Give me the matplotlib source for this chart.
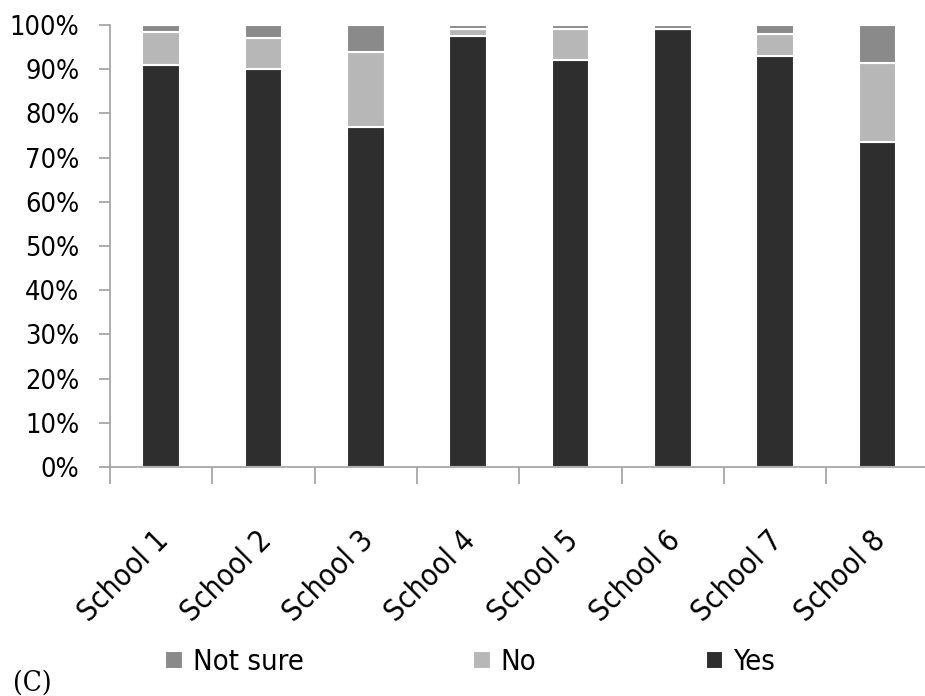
import numpy as np
from matplotlib import pyplot as plt
from matplotlib.ticker import PercentFormatter
import matplotlib.transforms as mtransforms

schools = ["School 1", "School 2", "School 3", "School 4",
           "School 5", "School 6", "School 7", "School 8"]
yes = [91, 90, 77, 97.5, 92, 99, 93, 73.5]
no = [7.5, 7, 17, 1.5, 7, 0, 5, 18]
not_sure = [1.5, 3, 6, 1, 1, 1, 2, 8.5]

plt.rcParams['font.family'] = ['DejaVu Sans']
plt.rcParams['font.stretch'] = 'condensed'

fig = plt.figure(figsize=(9.25, 6.96), dpi=100)
ax = fig.add_axes([0.119, 0.329, 0.885, 0.635])

x = np.arange(len(schools))
w = 0.37
b_yes = ax.bar(x, yes, w, color='#2e2e2e', edgecolor='white', linewidth=1.5, label='Yes')
b_no = ax.bar(x, no, w, bottom=yes, color='#b7b7b7', edgecolor='white', linewidth=1.5, label='No')
bottom2 = np.array(yes) + np.array(no)
b_ns = ax.bar(x, not_sure, w, bottom=bottom2, color='#8a8a8a', edgecolor='white', linewidth=1.5, label='Not sure')

ax.set_ylim(0, 100)
ax.set_xlim(-0.5, len(schools) - 0.5)
ax.set_yticks(np.arange(0, 101, 10))
ax.yaxis.set_major_formatter(PercentFormatter(decimals=0))

# category ticks between bars, labels at centres
ax.set_xticks(x)
ax.set_xticklabels(schools, rotation=45, ha='right', rotation_mode='anchor', fontsize=21.5)
ax.set_xticks(np.arange(-0.5, len(schools), 1), minor=True)
ax.tick_params(axis='x', which='major', length=0, pad=42)
ax.tick_params(axis='x', which='minor', length=12, color='#a0a0a0', width=1.2)
offset = mtransforms.ScaledTranslation(-0.07, 0, fig.dpi_scale_trans)
for lab in ax.get_xticklabels():
    lab.set_transform(lab.get_transform() + offset)

ax.tick_params(axis='y', labelsize=19.5, length=8, color='#a0a0a0', width=1.2, pad=14)

for s in ['top', 'right']:
    ax.spines[s].set_visible(False)
for s in ['left', 'bottom']:
    ax.spines[s].set_color('#a0a0a0')
    ax.spines[s].set_linewidth(1.2)

ax.legend(handles=[b_ns, b_no, b_yes], labels=['Not sure', 'No', 'Yes'],
          loc='center', bbox_to_anchor=(0.44, -0.442), ncol=3, frameon=False,
          fontsize=21, handlelength=0.6, handleheight=0.6, handletextpad=0.35,
          columnspacing=5.8)

fig.text(0.014, 0.008, "(C)", fontsize=20, family='DejaVu Serif')

fig.savefig("out.png", dpi=100)
